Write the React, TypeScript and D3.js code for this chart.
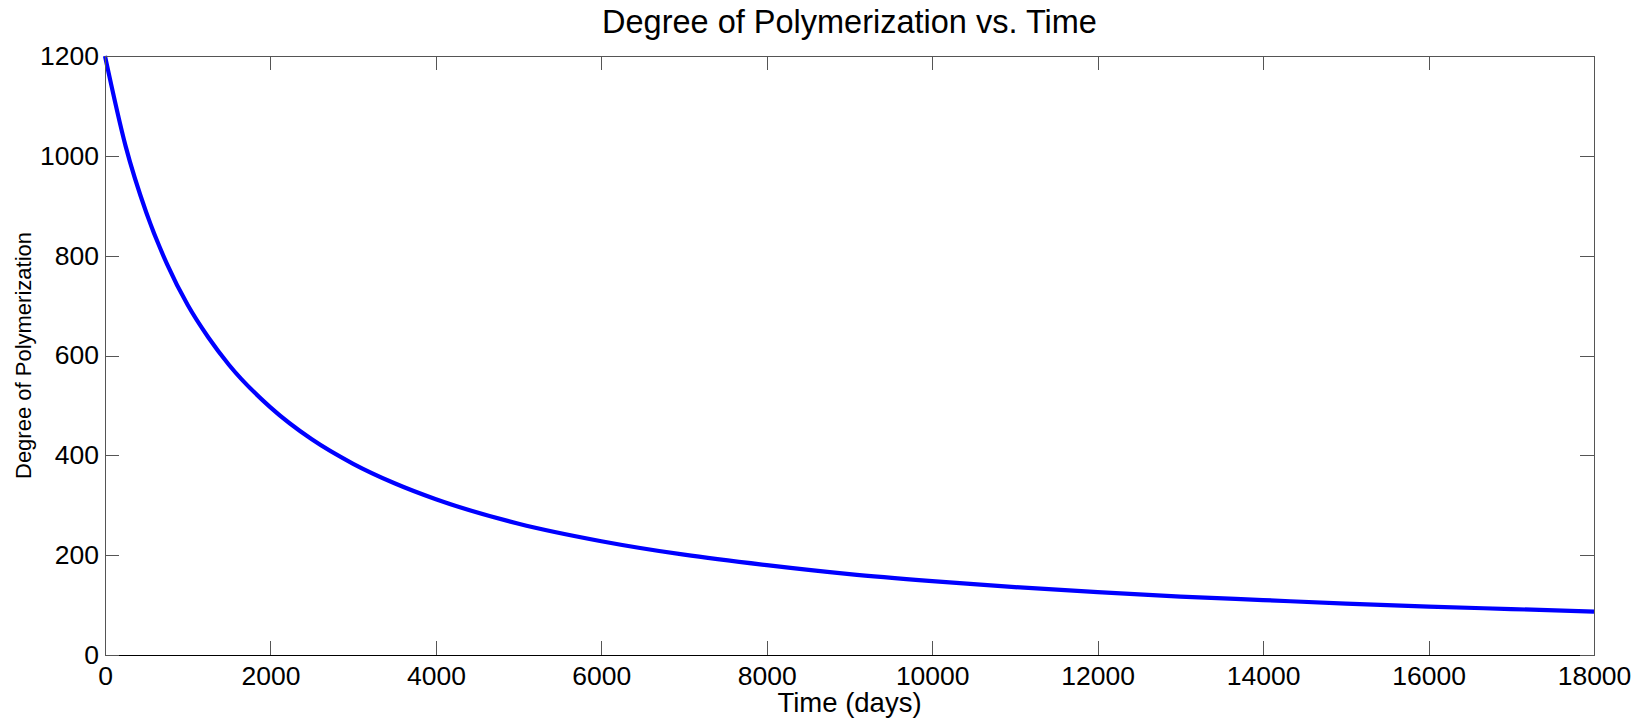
import React, { useEffect, useRef } from 'react'
import * as d3 from 'd3'

// values
const timeDays = [0, 250, 500, 750, 1000, 1250, 1500, 2000, 2500, 3000, 3500, 4000, 5000, 6000, 7000, 8000, 9000, 10000, 11000, 12000, 13000, 14000, 15000, 16000, 17000, 18000]
const degreeValues = [1200, 1019, 886, 783, 701, 636, 581, 496, 432, 383, 344, 312, 263, 228, 201, 180, 162, 148, 136, 126, 117, 110, 103, 97, 92, 87]

const xTicks = [0, 2000, 4000, 6000, 8000, 10000, 12000, 14000, 16000, 18000]
const yTicks = [0, 200, 400, 600, 800, 1000, 1200]

const title = 'Degree of Polymerization vs. Time'
const xLabel = 'Time (days)'
const yLabel = 'Degree of Polymerization'

const W = 1646
const H = 720
const margin = { top: 56, right: 52, bottom: 65, left: 105 }
const font = '"Liberation Sans", Arial, sans-serif'

export default function App() {
  const ref = useRef<SVGSVGElement>(null)

  useEffect(() => {
    const svg = d3.select(ref.current)
    svg.selectAll('*').remove()

    const iw = W - margin.left - margin.right
    const ih = H - margin.top - margin.bottom

    const x = d3.scaleLinear().domain([0, 18000]).range([0, iw])
    const y = d3.scaleLinear().domain([0, 1200]).range([ih, 0])

    const g = svg.append('g')
      .attr('transform', `translate(${margin.left}, ${margin.top})`)

    g.append('rect')
      .attr('width', iw)
      .attr('height', ih)
      .attr('fill', '#fff')

    const points = timeDays.map((t, i) => [t, degreeValues[i]] as [number, number])
    const line = d3.line<[number, number]>()
      .x(d => x(d[0]))
      .y(d => y(d[1]))
      .curve(d3.curveMonotoneX)

    g.append('path')
      .datum(points)
      .attr('fill', 'none')
      .attr('stroke', '#0000ff')
      .attr('stroke-width', 4.2)
      .attr('d', line)

    const fmt = d3.format('d')

    const styleAxis = (sel: any, color: string) => {
      sel.selectAll('path').attr('stroke', color).attr('shape-rendering', 'crispEdges')
      sel.selectAll('line').attr('stroke', '#555').attr('shape-rendering', 'crispEdges')
      sel.selectAll('text')
        .attr('fill', '#000')
        .style('font-family', font)
        .style('font-size', '26.5px')
    }

    const bottom = g.append('g')
      .attr('transform', `translate(0, ${ih})`)
      .call(d3.axisBottom(x).tickValues(xTicks).tickFormat(fmt as any)
        .tickSizeInner(-14).tickSizeOuter(0).tickPadding(11))
    styleAxis(bottom, '#000')

    const left = g.append('g')
      .call(d3.axisLeft(y).tickValues(yTicks).tickFormat(fmt as any)
        .tickSizeInner(-14).tickSizeOuter(0).tickPadding(6))
    styleAxis(left, '#555')

    const top = g.append('g')
      .call(d3.axisTop(x).tickValues(xTicks).tickFormat(() => '')
        .tickSizeInner(-14).tickSizeOuter(0))
    styleAxis(top, '#555')

    const right = g.append('g')
      .attr('transform', `translate(${iw}, 0)`)
      .call(d3.axisRight(y).tickValues(yTicks).tickFormat(() => '')
        .tickSizeInner(-14).tickSizeOuter(0))
    styleAxis(right, '#555')

    svg.append('text')
      .attr('x', margin.left + iw / 2)
      .attr('y', 33)
      .attr('text-anchor', 'middle')
      .style('font-family', font)
      .style('font-size', '32.5px')
      .text(title)

    svg.append('text')
      .attr('x', margin.left + iw / 2)
      .attr('y', 712)
      .attr('text-anchor', 'middle')
      .style('font-family', font)
      .style('font-size', '27.5px')
      .text(xLabel)

    svg.append('text')
      .attr('transform', `translate(31, ${margin.top + ih / 2}) rotate(-90)`)
      .attr('text-anchor', 'middle')
      .style('font-family', font)
      .style('font-size', '22px')
      .text(yLabel)
  }, [])

  return (
    <svg ref={ref} width={W} height={H}
      style={{ position: 'absolute', left: 0, top: 0, background: '#fff' }} />
  )
}
